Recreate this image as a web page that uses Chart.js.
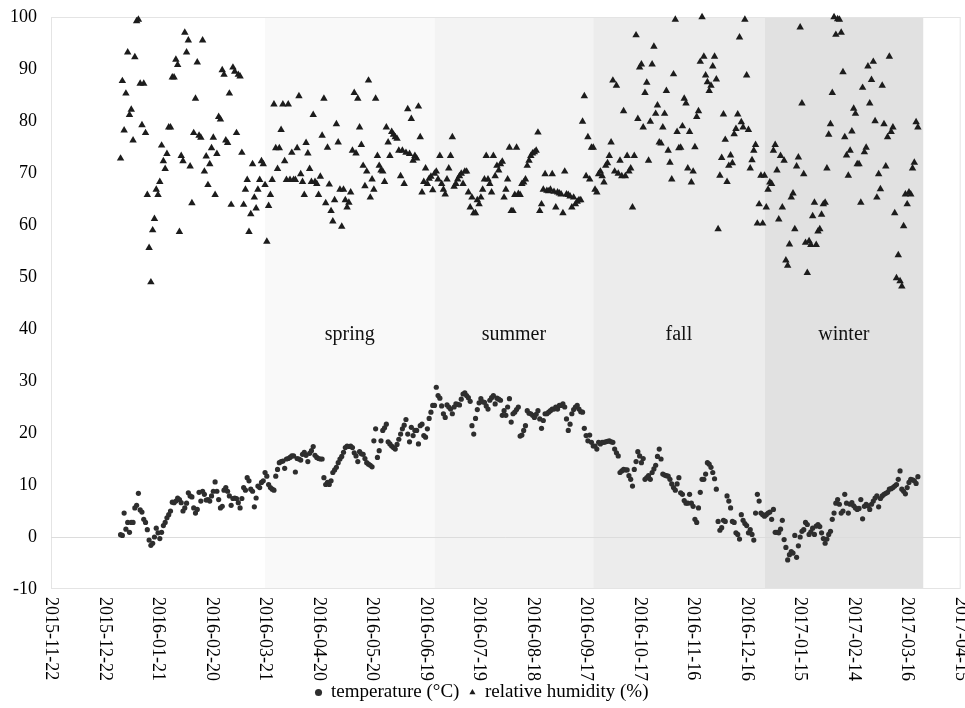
<!DOCTYPE html>
<html>
<head>
<meta charset="utf-8">
<script src="https://cdn.jsdelivr.net/npm/chart.js@4.4.1/dist/chart.umd.min.js"></script>
<style>
  html, body { margin: 0; padding: 0; background: #fff; }
  #wrap { width: 965px; height: 708px; }
</style>
</head>
<body>
<div id="wrap"><canvas id="chart" width="965" height="708"></canvas></div>
<script>
// x axis: days counted from axisStart, one tick every 30 days
const axisStart = '2015-11-22';
const axisEnd = '2017-04-15';
const tickStepDays = 30;
const yMin = -10, yMax = 100, yStep = 10;

// daily readings, first value on firstDay
const firstDay = '2015-12-31';

const temperature = [
    0.45, 0.3, 4.6, 1.5, 2.8, 0.9, 2.8, 2.8, 5.6, 6.1,
    8.4, 5.2, 4.8, 3.4, 2.8, 1.4, -0.6, -1.6, -1.2, 0.0,
    1.7, 0.8, -0.3, 0.9, 2.2, 2.8, 3.7, 4.3, 5.0, 6.7,
    6.6, 6.9, 7.5, 7.2, 6.6, 5.0, 5.6, 6.5, 8.5, 7.9,
    7.7, 5.6, 4.6, 5.3, 8.6, 6.9, 8.8, 8.2, 7.1, 7.2,
    6.9, 7.9, 8.8, 10.6, 8.8, 7.2, 5.6, 5.9, 9.0, 9.5,
    8.8, 7.9, 6.1, 7.4, 7.5, 7.4, 6.6, 5.6, 7.4, 9.5,
    9.0, 11.4, 10.8, 9.2, 8.8, 5.8, 7.5, 9.8, 9.5, 10.5,
    10.8, 12.4, 11.7, 10.1, 9.5, 9.2, 9.0, 11.7, 13.0, 14.3,
    14.5, 14.6, 13.2, 15.0, 15.1, 15.3, 15.6, 15.6, 12.5, 15.1,
    15.0, 14.8, 15.9, 16.3, 15.7, 14.5, 16.1, 16.6, 17.4, 15.7,
    15.3, 15.1, 15.0, 15.0, 11.4, 10.1,
    10.5, 10.1, 10.8, 12.4, 12.9, 13.4, 14.3, 15.0, 15.5, 16.3,
    17.2, 17.5, 17.4, 17.5, 17.2, 16.2, 15.6, 14.5, 16.4, 16.0,
    15.9, 15.1, 14.3, 14.0, 13.8, 13.5, 18.5, 20.8, 15.3, 16.6,
    18.5, 20.5, 21.0, 21.7, 18.3, 17.9, 17.5, 17.2, 16.9, 17.8,
    18.8, 19.8, 20.8, 21.5, 22.6, 19.8, 18.3, 21.1, 19.5, 20.5,
    20.5, 17.9, 21.4, 21.7, 19.5, 19.2, 20.8, 22.8, 24.0, 25.3,
    25.3, 28.8, 27.2, 26.7, 25.2, 23.7, 23.0, 25.4, 25.0, 24.6,
    23.7, 25.0, 25.6, 25.5, 25.4, 26.5, 27.5, 27.7, 27.2, 26.8,
    26.1, 21.4, 19.8, 22.8, 24.5, 25.8, 26.6, 26.0, 25.9, 25.2,
    24.6, 26.3, 26.8, 27.2, 25.6, 26.7, 26.5, 26.3, 23.4, 24.3,
    23.4, 25.0, 26.6, 22.1, 23.7, 24.0, 24.5, 25.0, 19.4, 19.6,
    20.5, 21.4, 24.3, 23.8, 23.7, 23.4, 23.0, 23.6, 24.3, 22.7,
    20.9, 22.4, 23.7, 23.7, 24.0, 24.3, 24.6, 24.6, 25.0, 24.6,
    25.3, 25.3, 25.6, 25.0, 22.7, 20.5, 21.7, 23.7, 24.5, 25.0,
    25.3, 24.6, 24.1, 24.0, 20.9, 19.5, 18.5, 19.6, 18.2, 17.5,
    17.5, 16.9, 18.2, 17.9, 18.2, 18.2, 18.3, 18.4, 18.5, 18.3,
    18.2, 16.9, 16.2, 15.6, 12.4, 12.7, 13.0, 12.9, 12.9, 11.8,
    11.1, 9.8, 13.0, 14.5, 16.4, 15.6, 14.3, 15.1, 11.1, 11.4, 11.8,
    11.1, 12.4, 13.1, 13.8, 15.5, 16.9, 15.0, 12.1, 11.9, 11.8,
    11.7, 11.1, 10.2, 9.5, 9.0, 10.2, 11.4, 8.5, 8.2, 7.0,
    6.5, 6.5, 8.2, 6.5, 5.9, 3.4, 2.8, 5.6, 8.6, 11.1,
    11.1, 12.1, 14.3, 14.0, 13.4, 12.4, 11.2, 9.2, 3.0, 1.3,
    1.8, 3.2, 3.0, 7.9, 6.9, 5.6, 3.0, 2.8, 0.8, 0.5,
    -0.4, 4.3, 3.2, 2.6, 2.2, 0.8, 1.4, 0.5, -0.6, 4.6,
    8.2, 6.9, 4.6, 4.3, 4.0, 4.3, 4.6, 4.8, 3.4, 5.3,
    0.9, 0.9, 0.8, 1.5, 3.2, -0.5, -2.0, -4.4, -3.4, -2.8,
    -3.1, 0.3, -3.9, -1.7, 0.0, 1.1, 1.4, 2.8, 2.4, 0.5,
    1.0, 1.7, 0.5, 2.1, 2.4, 2.0, 0.8, -0.3, -1.2, -0.4,
    0.5, 1.1, 3.4, 4.6, 6.5, 7.2, 6.3, 4.6, 5.0, 8.2,
    6.5, 4.6, 6.3, 6.6, 6.0, 5.6, 5.3, 5.5, 7.2, 3.5,
    5.9, 6.3, 6.0, 5.3, 6.3, 6.9, 7.5, 7.9, 5.8, 7.4,
    7.9, 8.2, 8.4, 8.6, 9.2, 9.3, 9.5, 9.8, 10.1, 11.1,
    12.7, 9.2, 8.8, 8.3, 9.5, 10.5, 11.1, 11.0, 10.8, 10.3, 11.6
];

const humidity = [
    72.8, 87.7, 78.2, 85.3, 93.2, 81.2, 82.2, 76.3, 92.3, 99.2,
    99.5, 87.2, 79.2, 87.2, 77.7, 65.8, 55.6, 49.0, 59.0, 61.2,
    66.8, 65.8, 68.3, 75.3, 72.3, 70.8, 73.7, 78.8, 78.8, 88.4,
    88.4, 91.8, 90.8, 58.7, 73.3, 72.3, 97.0, 93.2, 95.5, 71.3,
    64.2, 77.7, 84.3, 91.3, 77.2, 76.8, 95.5, 70.3, 73.2, 67.7,
    71.7, 74.8, 76.8, 65.8, 73.7, 80.8, 80.3, 89.8, 88.9, 76.3,
    75.8, 85.3, 63.9, 90.3, 89.5, 77.7, 88.9, 88.6, 73.9, 63.9,
    66.8, 68.7, 58.7, 62.1, 71.7, 65.3, 63.2, 66.8, 68.7, 72.3,
    71.7, 67.7, 56.8, 63.7, 65.8, 68.7, 83.2, 74.8, 70.8, 74.8,
    78.3, 83.2, 72.3, 68.7, 83.2, 68.7, 73.9, 68.7, 68.7, 74.8,
    84.8, 69.8, 68.3, 65.8, 75.8, 73.8, 70.8, 68.3, 81.2, 68.3,
    67.9, 65.8, 69.3, 77.2, 84.3, 64.2,
    74.9, 67.8, 62.7, 60.7, 64.8, 79.4, 75.9, 66.8, 59.7, 66.8,
    64.8, 63.4, 64.3, 66.3, 74.3, 85.4, 73.8, 84.3, 78.8, 75.4,
    71.4, 67.5, 70.3, 87.8, 65.3, 68.8, 66.8, 84.3, 73.3, 71.4,
    70.5, 70.3, 68.3, 78.8, 75.9, 73.3, 77.9, 77.4, 76.9, 76.6,
    74.3, 69.4, 74.3, 67.9, 73.9, 82.3, 73.7, 80.4, 72.4, 73.3,
    72.8, 82.8, 76.9, 66.3, 68.3, 70.9, 67.9, 68.9, 69.3, 66.7,
    69.9, 70.3, 68.8, 73.3, 67.9, 66.8, 65.9, 68.8, 70.9, 73.3,
    76.9, 67.4, 67.9, 68.8, 69.4, 69.9, 67.9, 70.3, 70.3, 66.3,
    63.4, 65.3, 62.3, 62.3, 64.8, 64.0,
    65.3, 66.8, 68.8, 73.3, 68.8, 67.9, 66.3, 73.3, 69.4, 71.4, 70.5,
    71.7, 72.2, 65.3, 66.8, 68.8, 74.9, 62.7, 62.7, 65.8, 74.9, 66.0,
    65.8, 67.9, 68.2, 68.8, 71.4, 72.4, 73.3, 73.8,
    74.0, 74.3, 77.8, 62.7, 64.0, 66.8, 69.8, 66.6, 66.5,
    66.8, 69.8, 66.4, 63.4, 66.3, 66.1, 65.9,
    62.3, 70.3, 65.9, 65.8, 65.5,
    63.4, 65.3, 64.0, 64.5,
    64.8, 64.8, 79.9, 84.8, 69.4, 76.9, 68.8, 74.9, 74.9, 66.8,
    66.3, 69.8, 70.3, 69.4, 68.2, 71.4, 71.9, 73.3, 75.9, 87.8,
    70.3, 86.8, 69.9, 72.4, 69.4, 81.9, 69.4, 73.3, 70.3, 70.9,
    63.4, 73.3, 96.5, 80.4, 90.3, 90.9, 78.8, 85.4, 87.4, 72.4,
    79.9, 90.9, 94.3, 81.4, 83.0,
    75.9, 75.7, 78.8, 81.4, 85.8, 74.3, 72.0,
    68.8, 89.0, 99.5, 77.9, 74.8, 74.9, 79.0,
    84.3, 83.4, 70.9, 77.9, 68.2, 70.3, 75.0,
    80.8, 81.9, 91.4, 100, 92.4, 88.8, 87.5,
    85.8, 86.8, 90.5, 92.4, 88.0,
    59.2, 69.5, 72.9, 81.3, 76.4, 68.3, 71.4, 73.4, 71.9, 77.5,
    78.5, 81.3, 96.1, 79.8, 78.8, 99.5, 88.8, 78.3, 70.9, 72.5,
    74.3, 75.4, 60.3, 64.0, 69.5, 60.3, 69.5, 63.4, 66.8, 68.2,
    67.9, 74.3, 75.4, 70.5, 61.1, 73.3, 63.4, 72.4, 53.2, 52.2,
    56.3, 65.3, 66.1, 59.2, 71.3, 73.0,
    98.0, 83.4, 69.8, 56.6, 50.8, 56.9, 56.2, 61.7, 64.3, 56.2,
    58.8, 59.2, 62.0,
    64.0, 64.3, 70.9, 77.4, 79.4, 85.4, 100, 96.6, 99.6, 99.5,
    97.0, 89.4, 76.9, 73.4, 69.5, 74.3, 78.0,
    82.4, 81.4, 71.7, 71.7, 64.3, 86.4, 74.0, 74.9, 90.5, 83.4,
    87.9, 91.4, 80.0,
    65.3, 69.8, 66.9, 86.8, 79.4, 71.3, 76.9, 92.4, 77.9, 78.8,
    62.3, 49.8, 54.2, 49.2, 48.2, 59.8, 65.9, 64.0,
    66.3, 65.9, 70.9, 72.0,
    79.8, 78.8
];

// seasons: shaded from one edge date to the next
const seasonNames = ['spring', 'summer', 'fall', 'winter'];
const seasonEdges = ['2016-03-21', '2016-06-24', '2016-09-21', '2016-12-26', '2017-03-25'];
const seasonLabelY = 38.8;

const DAY = 86400000;
function dayIndex(s) { return (Date.parse(s) - Date.parse(axisStart)) / DAY; }
function dayLabel(v) { return new Date(Date.parse(axisStart) + v * DAY).toISOString().slice(0, 10); }

const first = dayIndex(firstDay);
const tempPoints = temperature.map((v, i) => ({ x: first + i, y: v }));
const humPoints = humidity.map((v, i) => ({ x: first + i, y: v }));

const serif = '"Liberation Serif", "Times New Roman", serif';
const bandColors = ['#f9f9f9', '#f3f3f3', '#ececec', '#e1e1e1'];

const seasonPlugin = {
    id: 'seasons',
    beforeDraw(chart) {
        const { ctx, chartArea: a, scales: { x, y } } = chart;
        ctx.save();
        ctx.fillStyle = '#fff';
        ctx.fillRect(0, 0, chart.width, chart.height);
        for (let i = 0; i < seasonNames.length; i++) {
            const x0 = x.getPixelForValue(dayIndex(seasonEdges[i]));
            const x1 = x.getPixelForValue(dayIndex(seasonEdges[i + 1]));
            ctx.fillStyle = bandColors[i];
            ctx.fillRect(x0, a.top, x1 - x0, a.bottom - a.top);
        }
        ctx.strokeStyle = '#e4e4e4';
        ctx.lineWidth = 1;
        ctx.strokeRect(a.left + 0.5, a.top + 0.5, a.right - a.left - 1, a.bottom - a.top - 1);
        // season names
        ctx.fillStyle = '#111';
        ctx.font = '20px ' + serif;
        ctx.textAlign = 'center';
        ctx.textBaseline = 'middle';
        const ly = y.getPixelForValue(seasonLabelY);
        for (let i = 0; i < seasonNames.length; i++) {
            const mid = (dayIndex(seasonEdges[i]) + dayIndex(seasonEdges[i + 1])) / 2;
            ctx.fillText(seasonNames[i], x.getPixelForValue(mid), ly);
        }
        ctx.restore();
    },
    afterDraw(chart) {
        // date labels, turned to read downwards
        const { ctx, chartArea: a, scales: { x } } = chart;
        ctx.save();
        ctx.fillStyle = '#000';
        ctx.font = '18px ' + serif;
        ctx.textAlign = 'left';
        ctx.textBaseline = 'middle';
        x.ticks.forEach(t => {
            ctx.save();
            ctx.translate(x.getPixelForValue(t.value), a.bottom + 8);
            ctx.rotate(Math.PI / 2);
            ctx.fillText(dayLabel(t.value), 0, 0);
            ctx.restore();
        });
        ctx.restore();
    }
};

new Chart(document.getElementById('chart').getContext('2d'), {
    type: 'scatter',
    data: {
        datasets: [{
            label: 'temperature (°C)',
            data: tempPoints,
            pointStyle: 'circle',
            pointRadius: 2.6,
            backgroundColor: '#2e2e2e',
            borderColor: '#2e2e2e',
            borderWidth: 0,
            clip: false
        }, {
            label: 'relative humidity (%)',
            data: humPoints,
            pointStyle: 'triangle',
            pointRadius: 4.3,
            backgroundColor: '#1c1c1c',
            borderColor: '#1c1c1c',
            borderWidth: 0,
            clip: false
        }]
    },
    options: {
        responsive: false,
        animation: false,
        events: [],
        layout: { padding: { top: 17, right: 1, left: 0, bottom: -4 } },
        scales: {
            x: {
                type: 'linear',
                min: 0,
                max: dayIndex(axisEnd),
                ticks: { stepSize: tickStepDays, display: false },
                grid: { display: false },
                border: { display: false },
                afterFit(scale) { scale.height = 84; }
            },
            y: {
                min: yMin,
                max: yMax,
                ticks: {
                    stepSize: yStep,
                    color: '#000',
                    padding: 14,
                    font: { family: serif, size: 18 }
                },
                grid: {
                    drawTicks: false,
                    color: c => (c.tick && c.tick.value === 0 ? '#dcdcdc' : 'rgba(0,0,0,0)')
                },
                border: { display: false },
                afterFit(scale) {
                    scale.width = 51;
                    scale.paddingTop = 0;
                    scale.paddingBottom = 0;
                }
            }
        },
        plugins: {
            tooltip: { enabled: false },
            legend: {
                position: 'bottom',
                labels: {
                    usePointStyle: true,
                    boxWidth: 6,
                    boxHeight: 5,
                    padding: 10,
                    color: '#000',
                    font: { family: serif, size: 19 }
                }
            }
        }
    },
    plugins: [seasonPlugin]
});
</script>
</body>
</html>
